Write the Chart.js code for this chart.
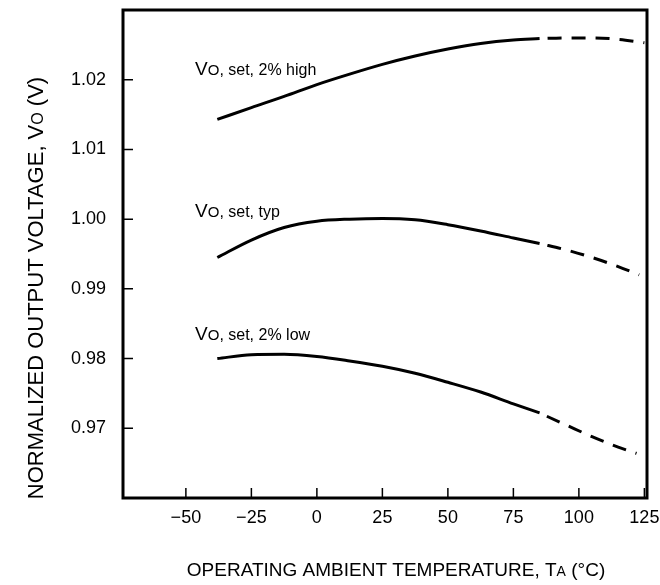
<!DOCTYPE html>
<html><head><meta charset="utf-8">
<script src="https://cdn.jsdelivr.net/npm/chart.js@4"></script>
<style>html,body{margin:0;padding:0;background:#fff}</style>
</head><body>
<canvas id="c" width="660" height="585"></canvas>
<script>
// ---- data ----
const tempSolid = [-38, -25, -12.5, 0, 12.5, 25, 37.5, 50, 62.5, 75, 85];
const highSolid = [1.0143, 1.0160, 1.0176, 1.0193, 1.0208, 1.0222, 1.0234, 1.0244, 1.0252, 1.0257, 1.0259];
const typSolid  = [0.9945, 0.9970, 0.9988, 0.9997, 1.0000, 1.0001, 0.9999, 0.9992, 0.9983, 0.9973, 0.9965];
const lowSolid  = [0.9800, 0.98055, 0.98062, 0.9803, 0.97966, 0.9789, 0.9779, 0.9766, 0.9752, 0.9735, 0.9722];

const tempDashedHigh = [85, 95, 105, 115, 125];
const highDashed     = [1.0259, 1.0260, 1.0260, 1.0258, 1.0253];
const tempDashedTyp  = [85, 95, 105, 115, 123];
const typDashed      = [0.9965, 0.9956, 0.9945, 0.9932, 0.9920];
const tempDashedLow  = [85, 95, 105, 115, 122];
const lowDashed      = [0.9722, 0.9705, 0.9688, 0.9673, 0.9664];

const xTicks = [-50, -25, 0, 25, 50, 75, 100, 125];
const yTicks = [0.97, 0.98, 0.99, 1.00, 1.01, 1.02];

const seriesNames = ['2% high', 'typ', '2% low'];
const labelTemp = -46.5;
const labelVolt = [1.02067, 1.00034, 0.98265];

const FONT = '"Liberation Sans", Arial, Helvetica, sans-serif';
const pts = (xs, ys) => xs.map((t, i) => ({x: t, y: ys[i]}));

function ds(label, data, dashed) {
  return {
    label, data,
    borderColor: '#000', borderWidth: 3,
    borderDash: dashed ? [14, 10] : [],
    borderDashOffset: dashed ? 16 : 0,
    pointRadius: 0, fill: false,
    cubicInterpolationMode: 'monotone'
  };
}

const framePlugin = {
  id: 'frame',
  afterDraw(chart) {
    const {ctx, chartArea: a, scales: {x, y}} = chart;
    ctx.save();
    ctx.strokeStyle = '#000';
    ctx.lineWidth = 1.5;
    ctx.beginPath();
    xTicks.forEach(v => { const px = x.getPixelForValue(v); ctx.moveTo(px, a.bottom); ctx.lineTo(px, a.bottom - 10); });
    yTicks.forEach(v => { const py = y.getPixelForValue(v); ctx.moveTo(a.left, py); ctx.lineTo(a.left + 10, py); });
    ctx.stroke();
    ctx.lineWidth = 3;
    ctx.strokeRect(a.left, a.top, a.right - a.left, a.bottom - a.top);

    ctx.fillStyle = '#000';
    ctx.textBaseline = 'alphabetic';
    ctx.textAlign = 'left';
    const drawParts = (parts, x0, yb) => {
      let cx = x0;
      parts.forEach(([t, s]) => { ctx.font = s + 'px ' + FONT; ctx.fillText(t, cx, yb); cx += ctx.measureText(t).width; });
    };
    const measure = parts => parts.reduce((w, [t, s]) => { ctx.font = s + 'px ' + FONT; return w + ctx.measureText(t).width; }, 0);

    // curve labels
    seriesNames.forEach((n, i) => {
      drawParts([['V', 19], ['O', 15], [', set, ' + n, 16]], x.getPixelForValue(labelTemp), y.getPixelForValue(labelVolt[i]));
    });

    // x title
    const xt = [['OPERATING AMBIENT TEMPERATURE, T', 19], ['A', 14], [' (°C)', 19]];
    drawParts(xt, 396 - measure(xt) / 2, 576);

    // y title
    const yt = [['NORMALIZED OUTPUT VOLTAGE, V', 22], ['O', 16], [' (V)', 22]];
    ctx.translate(43, 288);
    ctx.rotate(-Math.PI / 2);
    drawParts(yt, -measure(yt) / 2, 0);
    ctx.restore();
  }
};

new Chart(document.getElementById('c'), {
  type: 'line',
  data: {
    datasets: [
      ds('high', pts(tempSolid, highSolid), false),
      ds('high ext', pts(tempDashedHigh, highDashed), true),
      ds('typ', pts(tempSolid, typSolid), false),
      ds('typ ext', pts(tempDashedTyp, typDashed), true),
      ds('low', pts(tempSolid, lowSolid), false),
      ds('low ext', pts(tempDashedLow, lowDashed), true)
    ]
  },
  options: {
    responsive: false, animation: false, devicePixelRatio: 1,
    layout: {padding: {left: 0, right: 13, top: 10, bottom: 0}},
    plugins: {legend: {display: false}, tooltip: {enabled: false}},
    scales: {
      x: {
        type: 'linear', min: -74, max: 126,
        grid: {display: false}, border: {display: false},
        afterBuildTicks: s => { s.ticks = xTicks.map(v => ({value: v})); },
        afterFit: s => { s.height = 87; s.paddingLeft = 0; s.paddingRight = 0; },
        ticks: {
          autoSkip: false, maxRotation: 0, padding: 1, color: '#000',
          font: {family: FONT, size: 18},
          callback: v => v < 0 ? '\u2212' + Math.abs(v) : String(v)
        }
      },
      y: {
        type: 'linear', min: 0.96, max: 1.03,
        grid: {display: false}, border: {display: false},
        afterBuildTicks: s => { s.ticks = yTicks.map(v => ({value: v})); },
        afterFit: s => { s.width = 123; s.paddingTop = 0; s.paddingBottom = 0; },
        ticks: {
          autoSkip: false, padding: 9, color: '#000',
          font: {family: FONT, size: 18},
          callback: v => Number(v).toFixed(2)
        }
      }
    }
  },
  plugins: [framePlugin]
});
</script>
</body></html>
